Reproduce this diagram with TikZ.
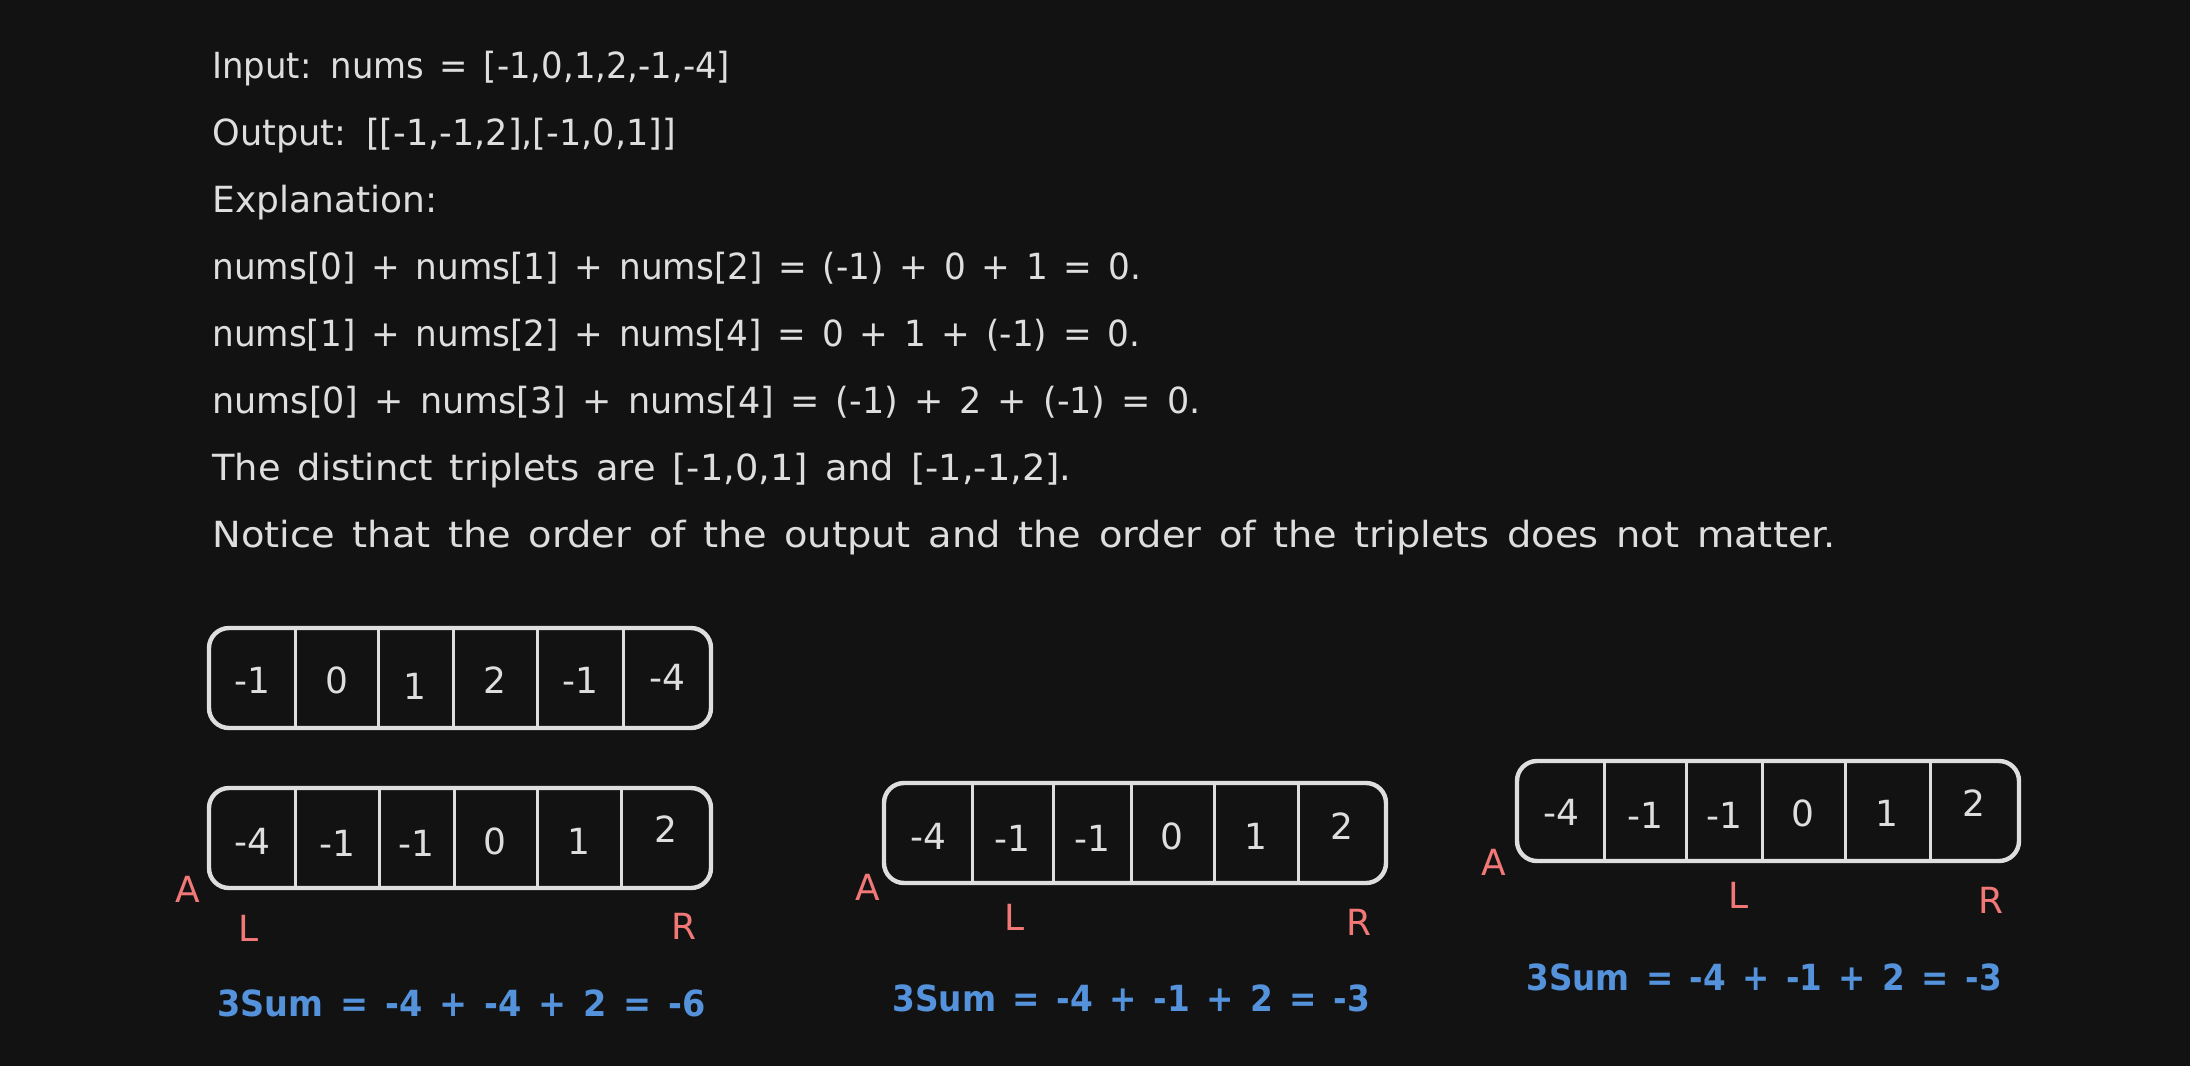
\documentclass[tikz,border=0pt]{standalone}
\usepackage{fontspec}
\usepackage{graphicx}
\setmainfont{DejaVu Sans}[WordSpace=1.45]
\definecolor{bg}{HTML}{121212}
\definecolor{ink}{HTML}{DEDEDE}
\definecolor{ptrred}{HTML}{F27878}
\definecolor{sumblue}{HTML}{5592DC}
\begin{document}
\begin{tikzpicture}[x=0.5pt,y=-0.5pt,
		every node/.style={font=\fontsize{18pt}{22pt}\selectfont,text=ink,inner sep=0pt},
		txt/.style={anchor=base west},
		arr/.style={draw=ink,line width=2.2pt,rounded corners=10pt,minimum width=251pt,minimum height=50pt},
		sep/.style={draw=ink,line width=1.5pt},
		ptr/.style={text=ptrred},
		sum/.style={text=sumblue,anchor=west,font=\fontsize{18pt}{22pt}\selectfont\bfseries}]
			\fill[bg] (0,0) rectangle (2190,1066);
			% problem text
			\node[txt] (input) at (212,78) {\scalebox{0.941}[1]{Input: nums = [-1,0,1,2,-1,-4]}};
			\node[txt] (output) at (212,145) {\scalebox{0.975}[1]{Output: [[-1,-1,2],[-1,0,1]]}};
			\node[txt] (expl) at (212,212) {Explanation:};
			\node[txt] (eqa) at (212,279) {\scalebox{0.952}[1]{nums[0] + nums[1] + nums[2] = (-1) + 0 + 1 = 0.}};
			\node[txt] (eqb) at (212,346) {\scalebox{0.951}[1]{nums[1] + nums[2] + nums[4] = 0 + 1 + (-1) = 0.}};
			\node[txt] (eqc) at (212,413) {\scalebox{0.972}[1]{nums[0] + nums[3] + nums[4] = (-1) + 2 + (-1) = 0.}};
			\node[txt] (distinct) at (212,480) {\scalebox{1.021}[1]{The distinct triplets are [-1,0,1] and [-1,-1,2].}};
			\node[txt] (notice) at (212,547) {\scalebox{1.066}[1]{Notice that the order of the output and the order of the triplets does not matter.}};
			% input array
			\node[arr] (nums) at (460,678) {};
			\draw[sep] (295,628) -- (295,728);
			\draw[sep] (378,628) -- (378,728);
			\draw[sep] (453,628) -- (453,728);
			\draw[sep] (537,628) -- (537,728);
			\draw[sep] (623,628) -- (623,728);
			\node (n1) at (252,680) {-1};
			\node (n2) at (337,680) {0};
			\node (n3) at (415,686) {1};
			\node (n4) at (495,680) {2};
			\node (n5) at (580,680) {-1};
			\node (n6) at (667,677) {-4};
			% sorted, first step
			\node[arr] (sortA) at (460,838) {};
			\draw[sep] (295,788) -- (295,888);
			\draw[sep] (379,788) -- (379,888);
			\draw[sep] (454,788) -- (454,888);
			\draw[sep] (537,788) -- (537,888);
			\draw[sep] (621,788) -- (621,888);
			\node (a1) at (252,841) {-4};
			\node (a2) at (337,843) {-1};
			\node (a3) at (416,843) {-1};
			\node (a4) at (495,841) {0};
			\node (a5) at (579,841) {1};
			\node (a6) at (666,829) {2};
			\node[ptr] (iA) at (188,889) {A};
			\node[ptr] (lA) at (249,928) {L};
			\node[ptr] (rA) at (684,926) {R};
			\node[sum] (sumA) at (217,1003) {\scalebox{0.93}[1]{3Sum = -4 + -4 + 2 = -6}};
			% sorted, second step
			\node[arr] (sortB) at (1135,833) {};
			\draw[sep] (972,783) -- (972,883);
			\draw[sep] (1053,783) -- (1053,883);
			\draw[sep] (1131,783) -- (1131,883);
			\draw[sep] (1214,783) -- (1214,883);
			\draw[sep] (1298,783) -- (1298,883);
			\node (b1) at (928,836) {-4};
			\node (b2) at (1012,838) {-1};
			\node (b3) at (1092,838) {-1};
			\node (b4) at (1172,836) {0};
			\node (b5) at (1256,836) {1};
			\node (b6) at (1342,826) {2};
			\node[ptr] (iB) at (868,887) {A};
			\node[ptr] (lB) at (1015,917) {L};
			\node[ptr] (rB) at (1359,922) {R};
			\node[sum] (sumB) at (892,998) {\scalebox{0.91}[1]{3Sum = -4 + -1 + 2 = -3}};
			% sorted, third step
			\node[arr] (sortC) at (1768,811) {};
			\draw[sep] (1604,762) -- (1604,860);
			\draw[sep] (1686,762) -- (1686,860);
			\draw[sep] (1762,762) -- (1762,860);
			\draw[sep] (1845,762) -- (1845,860);
			\draw[sep] (1930,762) -- (1930,860);
			\node (c1) at (1561,812) {-4};
			\node (c2) at (1645,815) {-1};
			\node (c3) at (1724,815) {-1};
			\node (c4) at (1803,813) {0};
			\node (c5) at (1887,813) {1};
			\node (c6) at (1974,803) {2};
			\node[ptr] (iC) at (1494,862) {A};
			\node[ptr] (lC) at (1739,895) {L};
			\node[ptr] (rC) at (1991,900) {R};
			\node[sum] (sumC) at (1526,977) {\scalebox{0.905}[1]{3Sum = -4 + -1 + 2 = -3}};
		\end{tikzpicture}
\end{document}
